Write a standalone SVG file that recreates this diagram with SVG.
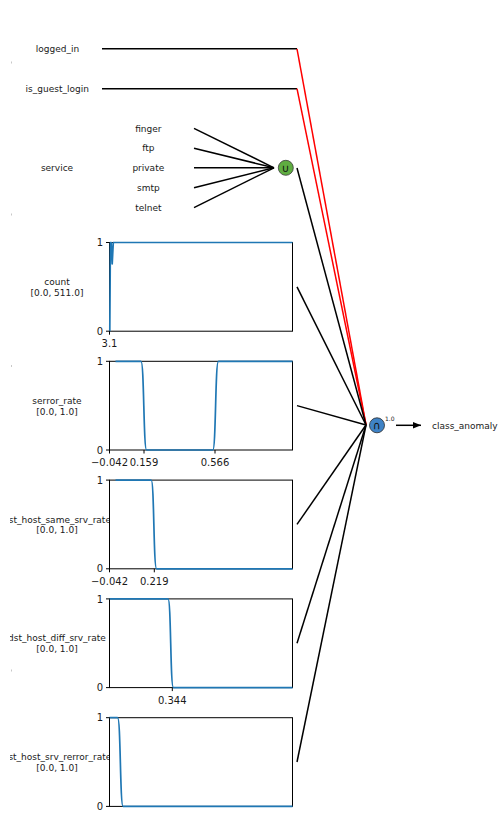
<svg xmlns="http://www.w3.org/2000/svg" width="500" height="814" viewBox="0 0 500 814">
  <defs>
    <style>
      text { font-family: "DejaVu Sans", "Liberation Sans", sans-serif; fill: #1a1a1a; }
      .lbl { font-size: 9px; text-anchor: middle; }
      .tick { font-size: 10px; }
      .tx { text-anchor: middle; }
      .ty { text-anchor: end; }
      .sym { font-size: 11px; text-anchor: middle; fill: #111; }
      .edge { stroke: #000; stroke-width: 1.5; fill: none; }
      .hot { stroke: #ff0000; stroke-width: 1.5; fill: none; }
      .spine { fill: #fff; stroke: #000; stroke-width: 1; }
      .tk { stroke: #000; stroke-width: 1; }
      .curve { fill: none; stroke: #1f77b4; stroke-width: 1.7; stroke-linejoin: round; }
      .dot { fill: #c8c8c8; }
    </style>
    <clipPath id="labelClip">
      <rect x="10" y="0" width="99.5" height="814"/>
    </clipPath>
    <marker id="arrowHead" viewBox="0 0 10 10" refX="10" refY="5" markerWidth="8" markerHeight="8" markerUnits="userSpaceOnUse" orient="auto">
      <path d="M0,1 L10,5 L0,9 z" fill="#000"/>
    </marker>
  </defs>

  <rect width="500" height="814" fill="#fff"/>

  <!-- faint marks along the left margin -->
  <rect class="dot" x="11" y="61.5" width="1" height="2"/>
  <rect class="dot" x="11" y="213.5" width="1" height="2"/>
  <rect class="dot" x="11" y="365" width="1" height="2"/>
  <rect class="dot" x="11" y="669.5" width="1" height="2"/>

  <!-- connectors -->
  <g id="connectors">
    <line class="edge" x1="102" y1="48.8" x2="297" y2="48.8"/>
    <line class="edge" x1="102" y1="88.7" x2="297" y2="88.7"/>
    <line class="hot" x1="297" y1="48.8" x2="366" y2="425"/>
    <line class="hot" x1="297" y1="88.7" x2="366" y2="425"/>
    <line class="edge" x1="194" y1="128.3" x2="274" y2="167.8"/>
    <line class="edge" x1="194" y1="148.2" x2="274" y2="167.8"/>
    <line class="edge" x1="194" y1="167.8" x2="274" y2="167.8"/>
    <line class="edge" x1="194" y1="187.8" x2="274" y2="167.8"/>
    <line class="edge" x1="194" y1="207.7" x2="274" y2="167.8"/>
    <line class="edge" x1="297" y1="168" x2="366" y2="425"/>
    <line class="edge" x1="297" y1="286.8" x2="366" y2="425"/>
    <line class="edge" x1="297" y1="405.6" x2="366" y2="425"/>
    <line class="edge" x1="297" y1="524.4" x2="366" y2="425"/>
    <line class="edge" x1="297" y1="643.2" x2="366" y2="425"/>
    <line class="edge" x1="297" y1="762" x2="366" y2="425"/>
    <line x1="396" y1="425.3" x2="421" y2="425.3" stroke="#000" stroke-width="1.5" marker-end="url(#arrowHead)"/>
  </g>

  <!-- boolean inputs -->
  <g id="logged_in">
    <text class="lbl" x="57.5" y="52.2">logged_in</text>
  </g>
  <g id="is_guest_login">
    <text class="lbl" x="57.2" y="92">is_guest_login</text>
  </g>

  <!-- categorical input and its values -->
  <g id="service">
    <text class="lbl" x="57" y="171.2">service</text>
    <text class="lbl" x="148.3" y="131.6">finger</text>
    <text class="lbl" x="148.3" y="151.4">ftp</text>
    <text class="lbl" x="148.3" y="171.2">private</text>
    <text class="lbl" x="148.3" y="191">smtp</text>
    <text class="lbl" x="148.3" y="210.9">telnet</text>
  </g>
  <g id="union">
    <circle cx="285.8" cy="167.8" r="7.5" fill="#5fad41" stroke="#3a3a3a" stroke-width="0.8"/>
    <text class="sym" x="285.8" y="171.6">∪</text>
  </g>

  <!-- count -->
  <g id="count">
    <g clip-path="url(#labelClip)">
      <text class="lbl" x="57" y="285">count</text>
      <text class="lbl" x="57" y="295.8">[0.0, 511.0]</text>
    </g>
    <rect class="spine" x="109.5" y="242.5" width="183" height="88.7"/>
    <path class="curve" d="M109.8,331.2 L110.4,242.5 L111.2,242.5 L112.2,264 L113.3,242.5 L292.5,242.5"/>
    <line class="tk" x1="106" y1="242.5" x2="109.5" y2="242.5"/>
    <line class="tk" x1="106" y1="331.2" x2="109.5" y2="331.2"/>
    <line class="tk" x1="109.5" y1="331.2" x2="109.5" y2="334.7"/>
    <text class="tick ty" x="103" y="246.1">1</text>
    <text class="tick ty" x="103" y="334.8">0</text>
    <text class="tick tx" x="109.5" y="347">3.1</text>
  </g>

  <!-- serror_rate -->
  <g id="serror_rate">
    <g clip-path="url(#labelClip)">
      <text class="lbl" x="57" y="403.8">serror_rate</text>
      <text class="lbl" x="57" y="414.6">[0.0, 1.0]</text>
    </g>
    <rect class="spine" x="109.5" y="361.3" width="183" height="88.7"/>
    <path class="curve" d="M115.5,361.3 L141,361.3 C144.2,361.3 143.4,450 146.6,450 L212.8,450 C216,450 215.2,361.3 218.4,361.3 L292.5,361.3"/>
    <line class="tk" x1="106" y1="361.3" x2="109.5" y2="361.3"/>
    <line class="tk" x1="106" y1="450" x2="109.5" y2="450"/>
    <line class="tk" x1="109.5" y1="450" x2="109.5" y2="453.5"/>
    <line class="tk" x1="144" y1="450" x2="144" y2="453.5"/>
    <line class="tk" x1="215" y1="450" x2="215" y2="453.5"/>
    <text class="tick ty" x="103" y="364.9">1</text>
    <text class="tick ty" x="103" y="453.6">0</text>
    <text class="tick tx" x="109.5" y="466">−0.042</text>
    <text class="tick tx" x="144" y="466">0.159</text>
    <text class="tick tx" x="215" y="466">0.566</text>
  </g>

  <!-- dst_host_same_srv_rate -->
  <g id="dst_host_same_srv_rate">
    <g clip-path="url(#labelClip)">
      <text class="lbl" x="57" y="522.6">dst_host_same_srv_rate</text>
      <text class="lbl" x="57" y="533.4">[0.0, 1.0]</text>
    </g>
    <rect class="spine" x="109.5" y="480.1" width="183" height="88.7"/>
    <path class="curve" d="M115.5,480.1 L151.2,480.1 C154.3,480.1 153.4,568.8 156.6,568.8 L292.5,568.8"/>
    <line class="tk" x1="106" y1="480.1" x2="109.5" y2="480.1"/>
    <line class="tk" x1="106" y1="568.8" x2="109.5" y2="568.8"/>
    <line class="tk" x1="109.5" y1="568.8" x2="109.5" y2="572.3"/>
    <line class="tk" x1="154.3" y1="568.8" x2="154.3" y2="572.3"/>
    <text class="tick ty" x="103" y="483.7">1</text>
    <text class="tick ty" x="103" y="572.4">0</text>
    <text class="tick tx" x="109.5" y="584.6">−0.042</text>
    <text class="tick tx" x="154.3" y="584.6">0.219</text>
  </g>

  <!-- dst_host_diff_srv_rate -->
  <g id="dst_host_diff_srv_rate">
    <g clip-path="url(#labelClip)">
      <text class="lbl" x="57" y="641.4">dst_host_diff_srv_rate</text>
      <text class="lbl" x="57" y="652.2">[0.0, 1.0]</text>
    </g>
    <rect class="spine" x="109.5" y="598.9" width="183" height="88.7"/>
    <path class="curve" d="M109.5,598.9 L168,598.9 C171.2,598.9 170.2,687.6 173.4,687.6 L292.5,687.6"/>
    <line class="tk" x1="106" y1="598.9" x2="109.5" y2="598.9"/>
    <line class="tk" x1="106" y1="687.6" x2="109.5" y2="687.6"/>
    <line class="tk" x1="172.3" y1="687.6" x2="172.3" y2="691.1"/>
    <text class="tick ty" x="103" y="602.5">1</text>
    <text class="tick ty" x="103" y="691.2">0</text>
    <text class="tick tx" x="172.3" y="703.6">0.344</text>
  </g>

  <!-- dst_host_srv_rerror_rate -->
  <g id="dst_host_srv_rerror_rate">
    <g clip-path="url(#labelClip)">
      <text class="lbl" x="57" y="760.2">dst_host_srv_rerror_rate</text>
      <text class="lbl" x="57" y="771">[0.0, 1.0]</text>
    </g>
    <rect class="spine" x="109.5" y="717.7" width="183" height="88.7"/>
    <path class="curve" d="M109.5,717.7 L117.6,717.7 C120.8,717.7 119.9,806.4 123.1,806.4 L292.5,806.4"/>
    <line class="tk" x1="106" y1="717.7" x2="109.5" y2="717.7"/>
    <line class="tk" x1="106" y1="806.4" x2="109.5" y2="806.4"/>
    <text class="tick ty" x="103" y="721.3">1</text>
    <text class="tick ty" x="103" y="810">0</text>
  </g>

  <!-- intersection node and output -->
  <g id="intersection">
    <circle cx="377" cy="425.3" r="7.5" fill="#3f83c6" stroke="#2a2a2a" stroke-width="0.8"/>
    <text class="sym" x="377" y="429.2">∩</text>
    <text x="385" y="420.5" font-size="6">1.0</text>
  </g>
  <g id="class_anomaly">
    <text x="432" y="428.5" font-size="9">class_anomaly</text>
  </g>
</svg>
